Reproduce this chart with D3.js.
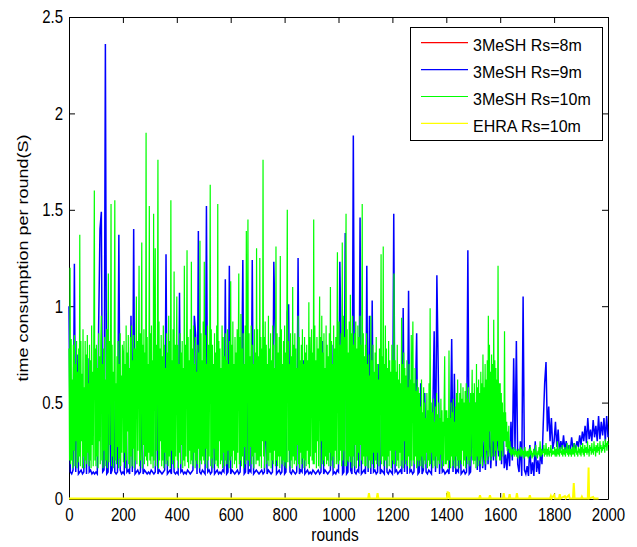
<!DOCTYPE html>
<html><head><meta charset="utf-8">
<script src="https://cdn.jsdelivr.net/npm/d3@7"></script>
<style>body{margin:0;background:#fff}text{font-family:"Liberation Sans",Arial,sans-serif;fill:#000}</style>
</head><body><svg id="c" width="637" height="547"></svg>
<script>
// ---- data (time consumption per round) ----
const blueStep = 5;   // blue sampled every 5 rounds
const greenStep = 2;  // green sampled every 2 rounds
const xTicks = [0,200,400,600,800,1000,1200,1400,1600,1800,2000];
const yTicks = [0,0.5,1,1.5,2,2.5];
const legendLabels = ["3MeSH Rs=8m","3MeSH Rs=9m","3MeSH Rs=10m","EHRA Rs=10m"];
const legendColors = ["#ff0000","#0000ff","#00ff00","#ffff00"];

const blueValues = [
1.0,0.14,0.13,0.15,1.22,0.14,0.75,0.13,0.14,0.15,0.13,0.14,0.48,0.13,0.73,0.14,0.15,0.13,0.14,0.13,
0.14,0.13,0.9,1.4,1.49,0.14,0.15,2.36,0.13,0.14,0.75,0.13,0.15,0.6,0.14,0.13,0.14,1.37,0.15,0.13,
0.14,0.13,0.62,0.14,0.15,0.13,0.95,0.14,1.4,0.13,0.14,0.15,0.13,0.14,0.45,0.13,0.15,0.14,0.13,0.14,
0.13,0.15,0.14,0.13,0.14,0.65,0.13,0.15,0.14,0.13,0.14,0.15,1.27,0.13,0.14,0.15,0.13,0.55,0.14,0.13,
0.14,0.13,1.07,0.14,0.15,0.13,0.14,0.13,0.15,0.14,0.13,0.14,0.15,0.95,0.85,0.13,1.39,0.14,0.13,0.15,
0.14,0.13,1.52,0.14,0.15,0.13,0.14,0.5,0.13,0.14,0.15,0.13,0.14,0.13,0.15,0.14,1.14,0.13,0.14,1.21,
0.13,0.15,0.14,0.13,0.14,0.15,0.13,0.14,0.5,1.24,0.13,0.14,0.9,0.13,0.15,0.14,1.24,0.13,0.14,0.15,
0.14,0.13,0.14,0.15,0.13,0.14,0.5,0.13,0.15,0.14,0.13,0.14,1.23,0.88,0.13,0.14,0.15,0.13,0.14,0.7,
0.13,0.14,0.97,1.01,0.14,0.13,0.15,0.14,0.13,0.14,1.25,0.13,0.15,0.14,0.72,0.13,0.14,0.15,0.13,0.14,
0.13,0.15,0.14,0.13,0.14,0.15,0.13,0.14,0.82,0.13,0.15,0.14,0.13,0.14,0.15,0.8,0.13,0.14,0.13,0.15,
0.14,1.23,0.75,0.13,0.14,1.38,0.13,0.14,0.65,0.15,0.13,1.885,0.14,0.13,0.15,0.14,1.46,0.13,0.14,0.15,
0.13,1.21,0.14,0.95,0.13,1.03,0.14,0.15,0.13,0.14,0.7,0.13,0.15,0.14,0.13,0.6,0.14,0.13,0.15,0.14,
0.13,1.48,0.14,0.15,0.13,0.14,0.15,0.13,0.99,0.14,0.45,0.13,1.08,0.14,0.15,0.13,0.14,0.5,0.86,0.13,
0.14,0.6,0.13,0.15,0.55,0.14,0.13,0.15,0.14,0.13,0.45,0.87,0.14,1.16,0.68,0.13,0.4,0.14,0.15,0.13,
0.14,0.15,0.13,0.3,0.83,0.14,0.65,0.13,0.15,0.14,0.4,0.13,0.14,0.15,0.13,0.14,1.29,0.13,0.14,0.35,
0.45,0.2,0.5,0.15,0.42,0.14,0.38,0.16,0.3,0.15,0.35,0.18,0.4,0.16,0.32,0.2,0.45,0.17,0.38,0.22,
0.5,0.18,0.42,0.16,0.23,0.15,0.28,0.17,0.4,0.2,0.73,0.25,0.82,0.18,0.14,0.3,0.12,1.05,0.15,0.13,
0.17,0.12,0.28,0.13,0.19,0.12,0.3,0.14,0.2,0.13,0.25,0.18,0.4,0.6,0.71,0.35,0.48,0.3,0.42,0.26,
0.3,0.4,0.27,0.36,0.24,0.3,0.26,0.33,0.25,0.3,0.24,0.28,0.25,0.32,0.26,0.29,0.25,0.3,0.27,0.33,
0.28,0.35,0.3,0.38,0.29,0.42,0.31,0.36,0.3,0.41,0.32,0.38,0.3,0.43,0.31,0.4,0.33,0.42,0.3,0.43,
0.32];

const greenValues = [
// 0-98
0.78,0.2,1.2,0.18,0.83,0.2,0.62,0.16,0.8,0.25,
0.85,0.17,0.7,0.3,0.82,0.16,0.66,0.19,0.78,0.22,
1.37,0.17,0.82,0.3,0.65,0.16,0.88,0.22,0.58,0.16,
0.82,0.2,0.75,0.18,0.85,0.24,0.6,0.17,0.8,0.2,
0.72,0.16,0.9,0.28,0.66,0.17,0.84,1.6,0.2,0.78,
// 100-198
0.17,0.8,0.22,0.68,0.16,0.86,0.3,0.74,0.18,0.82,
0.95,0.2,0.7,0.16,0.78,0.25,0.84,0.17,0.62,0.2,
0.88,0.16,0.76,1.17,0.19,0.82,0.28,0.7,1.53,0.17,
0.8,0.22,0.66,0.16,0.86,1.55,0.2,0.6,0.18,0.74,
0.27,0.82,0.16,0.7,0.21,0.86,0.17,0.64,0.24,0.8,
// 200-298
0.75,0.19,0.82,0.24,0.7,0.16,0.9,0.2,0.76,0.35,
0.85,0.18,0.68,0.16,0.84,0.22,0.9,0.17,0.72,0.26,
0.85,0.16,0.78,0.2,0.66,1.05,0.18,0.82,0.25,0.74,
1.21,0.17,0.86,0.2,0.7,1.33,0.16,0.8,0.28,0.88,
0.18,0.76,0.22,1.9,0.2,0.84,0.17,0.7,0.24,1.52,
// 300-398
0.2,0.86,0.18,0.9,0.22,0.72,0.16,1.48,0.2,0.84,
1.3,0.17,0.8,0.25,0.7,1.76,0.16,0.92,0.2,0.78,
0.3,0.85,0.17,0.74,0.2,0.9,0.16,0.8,0.24,0.68,
0.18,0.86,0.2,0.76,0.17,0.95,0.22,0.82,0.16,1.55,
0.25,0.72,0.18,0.88,0.2,1.18,0.16,0.8,0.22,0.7,
// 400-498
1.05,0.2,0.8,0.16,0.7,0.24,0.86,0.18,0.76,0.28,
0.82,0.16,0.68,0.2,1.21,0.17,0.8,0.22,0.74,1.29,
0.19,0.84,0.16,0.72,0.25,0.88,0.18,1.23,0.2,0.78,
0.17,0.9,0.24,0.7,0.16,0.84,0.2,0.66,0.18,0.8,
0.26,0.76,0.16,1.34,0.2,0.86,0.18,0.72,0.22,0.92,
// 500-598
0.2,1.23,0.18,0.85,0.26,0.7,0.16,0.9,0.2,0.8,
0.22,0.74,1.63,0.17,0.88,0.21,0.8,0.16,0.7,0.26,
0.86,0.18,0.76,0.2,0.9,0.17,1.53,0.16,0.82,0.3,
0.78,0.18,0.68,0.2,0.9,0.16,0.84,0.24,0.74,0.17,
0.86,0.2,0.72,0.18,0.88,0.25,0.7,0.16,0.82,0.2,
// 600-698
1.13,0.22,0.8,0.16,0.92,0.25,0.7,0.18,0.84,0.2,
0.76,0.16,0.88,0.24,0.72,1.17,0.18,0.84,0.2,0.96,
0.17,0.78,0.22,0.86,0.16,0.7,0.27,0.9,0.18,1.39,
0.2,0.82,1.45,0.2,0.86,0.17,0.74,0.27,0.9,0.18,
0.8,0.22,0.7,0.16,0.88,0.24,0.76,0.18,1.3,0.2,
// 700-798
0.88,0.2,0.74,0.17,1.25,0.22,0.84,0.16,0.78,0.3,
1.76,0.22,0.84,0.16,0.92,0.3,0.8,0.18,0.7,0.2,
0.95,0.17,0.78,0.24,0.86,0.16,0.72,0.2,0.9,0.18,
0.8,0.25,0.68,0.17,1.31,0.2,0.86,0.17,0.76,0.22,
0.84,0.16,1.26,0.22,0.88,0.18,0.7,0.2,0.82,0.17,
// 800-898
0.9,0.19,0.76,0.16,0.84,1.5,0.19,0.82,0.25,0.7,
0.17,0.86,0.2,0.74,0.16,1.1,0.22,0.8,0.18,0.86,
0.2,0.78,0.17,0.68,0.28,0.95,0.18,0.84,0.16,0.72,
0.24,0.8,0.18,0.88,0.21,0.7,0.16,0.84,0.2,0.76,
0.17,0.8,0.25,0.72,0.18,1.02,0.16,0.84,0.22,0.7,
// 900-998
0.88,0.2,0.76,0.18,1.45,0.18,0.9,0.24,0.72,0.16,
0.84,0.3,0.78,0.17,0.7,1.05,0.16,0.84,0.3,0.95,
0.18,0.76,0.2,0.86,0.17,0.68,0.22,0.9,0.18,0.8,
0.2,0.74,0.17,0.86,0.24,1.1,0.17,0.82,0.2,0.7,
0.22,0.9,0.16,0.78,0.25,0.84,0.18,0.72,1.28,0.2,
// 1000-1098
0.18,0.92,0.2,0.8,0.25,0.86,0.17,1.33,0.2,0.95,
0.25,0.84,0.17,0.9,1.48,0.17,0.88,0.2,0.76,0.19,
0.92,0.22,1.06,0.19,0.86,0.16,0.95,0.22,0.8,0.17,
0.86,0.28,0.92,0.16,0.78,0.2,0.9,0.24,0.84,0.17,
0.95,0.28,0.8,0.2,1.53,0.18,0.86,0.22,0.74,0.17,
// 1100-1198
0.8,0.17,0.86,0.22,0.7,0.16,0.75,0.2,0.64,0.16,
0.95,0.2,0.72,0.18,0.8,0.24,0.66,0.16,0.76,0.2,
0.84,0.18,0.7,0.24,0.62,0.17,0.78,0.2,0.68,1.27,
0.18,0.74,0.22,1.31,0.17,0.7,0.2,0.9,0.2,0.78,
0.16,0.68,0.22,0.82,0.17,0.72,0.25,0.66,0.16,0.8,
// 1200-1298
0.2,0.72,0.18,1.17,0.18,0.72,0.25,0.66,0.17,0.8,
0.2,0.62,0.16,0.7,0.24,0.6,0.17,0.94,0.2,0.7,
0.16,0.76,0.3,0.68,0.18,0.64,0.2,0.72,0.17,0.58,
0.22,0.7,0.16,0.62,0.2,0.85,0.17,0.66,0.92,0.2,
0.6,0.18,0.68,0.22,0.56,0.16,0.62,0.2,0.58,0.17,
// 1300-1398
0.55,0.2,0.48,0.17,0.62,0.22,0.45,0.16,0.58,0.2,
0.5,0.18,0.42,0.24,0.55,0.16,0.46,0.2,0.6,0.17,
0.99,0.18,0.5,0.24,0.45,0.16,0.52,0.2,0.4,0.17,
0.48,0.22,0.55,0.16,0.44,0.2,0.5,0.18,0.42,0.23,
0.52,0.16,0.46,0.2,0.4,0.17,0.5,0.74,0.18,0.46,
// 1400-1498
0.18,0.46,0.2,0.42,0.16,0.77,0.2,0.42,0.16,0.5,
0.22,0.45,0.17,0.52,0.2,0.4,0.16,0.48,0.22,0.55,
0.17,0.62,0.2,0.5,0.16,0.55,0.2,0.6,0.18,0.52,
0.25,0.58,0.17,0.5,0.2,0.56,0.16,0.6,0.22,0.52,
0.18,0.58,0.2,0.5,0.17,0.55,0.22,0.48,0.67,0.2,
// 1500-1598
0.55,0.18,0.6,0.2,0.5,0.16,0.7,0.22,0.58,0.17,
0.62,0.2,0.55,0.18,0.66,0.22,0.6,0.17,0.75,0.3,
0.58,0.2,0.7,0.18,0.62,0.25,0.72,0.2,0.95,0.22,
0.8,0.35,0.66,0.2,0.75,0.22,0.7,0.3,0.93,0.22,
0.72,0.25,0.68,0.2,0.62,0.3,1.21,0.25,0.6,0.2,
// 1600-1698
0.6,0.2,0.55,0.25,0.5,0.22,0.45,0.3,0.87,0.3,
0.45,0.27,0.4,0.25,0.35,0.26,0.38,0.24,0.3,0.23,
0.27,0.22,0.26,0.24,0.23,0.27,0.22,0.25,0.23,0.26,
0.22,0.25,0.24,0.21,0.26,0.23,0.25,0.22,0.27,0.24,
0.22,0.26,0.23,0.25,0.21,0.24,0.27,0.22,0.25,0.23,
// 1700-1798
0.22,0.25,0.21,0.24,0.26,0.22,0.27,0.23,0.25,0.21,
0.24,0.22,0.26,0.23,0.25,0.22,0.28,0.23,0.24,0.21,
0.25,0.23,0.27,0.22,0.3,0.24,0.22,0.26,0.23,0.25,
0.24,0.28,0.22,0.26,0.23,0.29,0.24,0.22,0.26,0.23,
0.27,0.22,0.25,0.24,0.28,0.22,0.26,0.23,0.25,0.24,
// 1800-1898
0.23,0.27,0.22,0.25,0.26,0.22,0.3,0.24,0.23,0.26,
0.22,0.27,0.24,0.25,0.23,0.28,0.22,0.26,0.24,0.23,
0.27,0.22,0.25,0.24,0.29,0.23,0.26,0.22,0.28,0.24,
0.23,0.26,0.22,0.25,0.27,0.23,0.24,0.29,0.22,0.26,
0.24,0.28,0.23,0.25,0.22,0.27,0.24,0.26,0.23,0.28,
// 1900-2000
0.22,0.27,0.24,0.29,0.23,0.26,0.22,0.28,0.25,0.24,
0.27,0.23,0.3,0.24,0.26,0.22,0.28,0.25,0.27,0.23,
0.29,0.24,0.26,0.23,0.3,0.25,0.27,0.22,0.28,0.26,
0.24,0.29,0.25,0.27,0.23,0.3,0.26,0.28,0.24,0.27,
0.25,0.3,0.26,0.28,0.24,0.31,0.27,0.29,0.25,0.3,
0.28];

const yellowRounds = [0,1110,1113,1116,1142,1145,1148,1402,1405,1408,1410,1413,1522,1525,1528,1559,1562,1565,1610,1613,1616,1632,1635,1638,1659,1662,1665,1707,1710,1713,1785,1788,1791,1800,1803,1818,1821,1824,1840,1843,1855,1858,1870,1873,1876,1900,1903,1906,1925,1928,1930,1945,1948,1965];
const yellowValues = [0.003,0.003,0.03,0.003,0.003,0.03,0.003,0.003,0.04,0.003,0.035,0.003,0.003,0.02,0.003,0.003,0.02,0.003,0.003,0.03,0.003,0.003,0.025,0.003,0.003,0.03,0.003,0.003,0.02,0.003,0.003,0.015,0.003,0.02,0.003,0.003,0.025,0.003,0.015,0.003,0.02,0.003,0.003,0.083,0.003,0.003,0.012,0.003,0.003,0.163,0.003,0.01,0.003,0.003];

// ---- drawing ----
const svg = d3.select("#c");
const x = d3.scaleLinear().domain([0,2000]).range([69,608]);
const y = d3.scaleLinear().domain([0,2.5]).range([499,17]);

const bluePts = blueValues.map((v,i)=>[i*blueStep,v]);
const greenPts = greenValues.map((v,i)=>[i*greenStep,v]);
const yellowPts = yellowRounds.map((r,i)=>[r,yellowValues[i]]);
const line = d3.line().x(d=>x(d[0])).y(d=>y(d[1]));

// axes (box with inward ticks)
const gB = svg.append("g").attr("transform","translate(0,499)")
  .call(d3.axisBottom(x).tickValues(xTicks).tickSizeInner(-6).tickSizeOuter(0).tickPadding(8).tickFormat(d3.format("d")));
const gT = svg.append("g").attr("transform","translate(0,17)")
  .call(d3.axisTop(x).tickValues(xTicks).tickSizeInner(-6).tickSizeOuter(0).tickFormat(""));
const gL = svg.append("g").attr("transform","translate(69,0)")
  .call(d3.axisLeft(y).tickValues(yTicks).tickSizeInner(-6).tickSizeOuter(0).tickPadding(6).tickFormat(d3.format("")));
const gR = svg.append("g").attr("transform","translate(608,0)")
  .call(d3.axisRight(y).tickValues(yTicks).tickSizeInner(-6).tickSizeOuter(0).tickFormat(""));
[gB,gT,gL,gR].forEach(g=>{
  g.selectAll("path.domain").attr("stroke","#000").attr("stroke-width",1);
  g.selectAll(".tick line").attr("stroke","#000");
});
gB.selectAll(".tick text").attr("y",null).attr("dy",null)
  .attr("dominant-baseline","central")
  .attr("transform","translate(0,16) scale(1,1.2)")
  .style("font-size","15px").style("font-family",'"Liberation Sans",Arial,sans-serif');
gL.selectAll(".tick text").attr("dy",null).attr("x",null)
  .attr("dominant-baseline","central")
  .attr("transform","translate(-6,0) scale(1,1.2)")
  .style("font-size","15px").style("font-family",'"Liberation Sans",Arial,sans-serif');

// series (red has no visible data)
svg.append("path").attr("d",line(bluePts)).attr("fill","none").attr("stroke",legendColors[1]).attr("stroke-width",1.5);
svg.append("path").attr("d",line(greenPts)).attr("fill","none").attr("stroke",legendColors[2]).attr("stroke-width",1.2);
svg.append("path").attr("d",line(yellowPts)).attr("fill","none").attr("stroke",legendColors[3]).attr("stroke-width",2);

// axis titles
svg.append("text").attr("text-anchor","middle")
  .attr("transform","translate(335,541) scale(1,1.15)")
  .style("font-size","15.5px").text("rounds");
svg.append("text").attr("text-anchor","middle")
  .attr("transform","translate(28,258) rotate(-90) scale(1.2,1)")
  .style("font-size","15px").text("time consumption per round(S)");

// legend
const lg = svg.append("g");
lg.append("rect").attr("x",410.5).attr("y",27.5).attr("width",192).attr("height",113)
  .attr("fill","#fff").attr("stroke","#000").attr("stroke-width",1);
legendLabels.forEach((lab,i)=>{
  const ry = 42.7 + i*26.9;
  lg.append("line").attr("x1",421).attr("x2",468).attr("y1",ry).attr("y2",ry)
    .attr("stroke",legendColors[i]).attr("stroke-width",1.2);
  lg.append("text").attr("dominant-baseline","central")
    .attr("transform",`translate(473,${ry+2}) scale(1,1.06)`)
    .style("font-size","16px").text(lab);
});
</script></body></html>
